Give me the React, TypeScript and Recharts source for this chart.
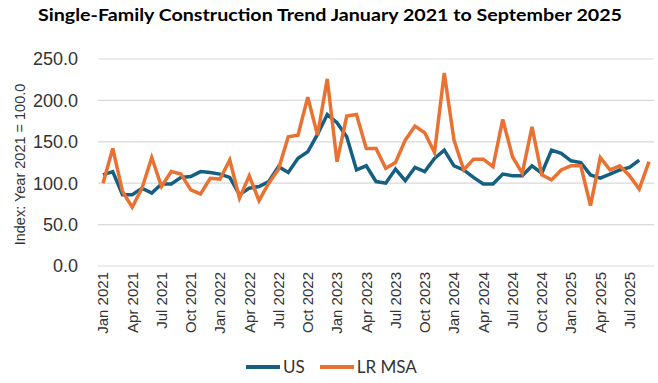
import React from "react";
import { CartesianGrid, Legend, Line, LineChart, XAxis, YAxis } from "recharts";

const months = [
  "Jan 2021", "Feb 2021", "Mar 2021", "Apr 2021", "May 2021", "Jun 2021",
  "Jul 2021", "Aug 2021", "Sep 2021", "Oct 2021", "Nov 2021", "Dec 2021",
  "Jan 2022", "Feb 2022", "Mar 2022", "Apr 2022", "May 2022", "Jun 2022",
  "Jul 2022", "Aug 2022", "Sep 2022", "Oct 2022", "Nov 2022", "Dec 2022",
  "Jan 2023", "Feb 2023", "Mar 2023", "Apr 2023", "May 2023", "Jun 2023",
  "Jul 2023", "Aug 2023", "Sep 2023", "Oct 2023", "Nov 2023", "Dec 2023",
  "Jan 2024", "Feb 2024", "Mar 2024", "Apr 2024", "May 2024", "Jun 2024",
  "Jul 2024", "Aug 2024", "Sep 2024", "Oct 2024", "Nov 2024", "Dec 2024",
  "Jan 2025", "Feb 2025", "Mar 2025", "Apr 2025", "May 2025", "Jun 2025",
  "Jul 2025", "Aug 2025", "Sep 2025",
];

const usIndex = [
  110, 114, 86, 86, 94, 88, 99, 99, 107, 108, 114, 113,
  111, 107, 86, 94, 96, 102, 120, 113, 130, 138, 159, 183,
  173, 156, 116, 121, 102, 100, 117, 103, 119, 114, 130, 140,
  121, 116, 107, 99, 99, 111, 109, 109, 121, 112, 140, 136,
  127, 125, 110, 106, 111, 116, 119, 128, null,
];

const lrIndex = [
  100, 142, 90, 71, 94, 131, 96, 114, 111, 92, 87, 106,
  105, 128, 82, 109, 79, 100, 117, 156, 158, 204, 158, 226,
  126, 181, 183, 142, 142, 118, 125, 152, 169, 161, 137, 233,
  152, 116, 129, 129, 120, 177, 132, 112, 168, 110, 104, 116,
  121, 121, 73, 131, 116, 121, 109, 93, 126,
];

const seriesNames = ["US", "LR MSA"];

const yTicks = [0, 50, 100, 150, 200, 250];

const data = months.map((month, i) => ({ month, us: usIndex[i], lr: lrIndex[i] }));

const BLUE = "#156082";
const ORANGE = "#E97132";

const MonthTick = (props: any) => {
  const { x, y, payload } = props;
  return (
    <text
      x={x}
      y={y}
      dy="0.35em"
      transform={`rotate(-90 ${x} ${y})`}
      textAnchor="end"
      fontFamily="Liberation Sans"
      fontSize={15}
      fill="#333"
    >
      {payload.value}
    </text>
  );
};

const YLabel = (props: any) => {
  const { viewBox } = props;
  const cx = viewBox.x + 20;
  const cy = viewBox.y + viewBox.height / 2 + 2;
  return (
    <text
      x={cx}
      y={cy}
      transform={`rotate(-90 ${cx} ${cy})`}
      textAnchor="middle"
      dy="0.35em"
      fontFamily="Liberation Sans"
      fontSize={14.5}
      fill="#333"
    >
      Index: Year 2021 = 100.0
    </text>
  );
};

const renderLegend = (props: any) => {
  const payload = [...(props.payload || [])].sort(
    (a: any, b: any) => seriesNames.indexOf(a.value) - seriesNames.indexOf(b.value)
  );
  return (
    <div
      style={{
        display: "flex",
        justifyContent: "center",
        alignItems: "center",
        fontFamily: "Lato",
        fontSize: 17,
        color: "#333",
        paddingLeft: 20,
      }}
    >
      {payload.map((entry: any) => (
        <span
          key={entry.value}
          style={{ display: "flex", alignItems: "center", marginRight: 15 }}
        >
          <svg width={34} height={4}>
            <line x1={0} y1={2} x2={34} y2={2} stroke={entry.color} strokeWidth={4} />
          </svg>
          <span style={{ marginLeft: 3 }}>{entry.value}</span>
        </span>
      ))}
    </div>
  );
};

const App = () => {
  return (
    <div style={{ position: "absolute", left: 0, top: 0, width: 658, height: 383, background: "#fff" }}>
      <svg width={658} height={35} style={{ position: "absolute", left: 0, top: 0 }}>
        <text
          x={330}
          y={21}
          textAnchor="middle"
          fontFamily="Lato"
          fontWeight={700}
          fontSize={17}
          textLength={584}
          lengthAdjust="spacingAndGlyphs"
          fill="#000"
        >
          Single-Family Construction Trend January 2021 to September 2025
        </text>
      </svg>
      <LineChart
        width={658}
        height={383}
        data={data}
        margin={{ top: 59, right: 4, bottom: 37, left: 0 }}
      >
        <CartesianGrid horizontal vertical={false} stroke="#d9d9d9" strokeWidth={1.2} />
        <XAxis
          dataKey="month"
          interval={2}
          height={80}
          tickLine={false}
          axisLine={false}
          tickSize={0}
          tickMargin={6}
          padding={{ left: 5, right: 5 }}
          tick={<MonthTick />}
        />
        <YAxis
          width={98}
          domain={[0, 250]}
          ticks={yTicks}
          tickFormatter={(v: number) => v.toFixed(1)}
          tickLine={false}
          axisLine={false}
          tickSize={0}
          tickMargin={20}
          tick={{ fontFamily: "Liberation Sans", fontSize: 18, fill: "#333" }}
          label={<YLabel />}
        />
        <Legend
          verticalAlign="middle"
          align="center"
          layout="horizontal"
          content={renderLegend}
          wrapperStyle={{ top: 356, left: 0, width: 658 }}
        />
        <Line
          type="linear"
          dataKey="us"
          name="US"
          stroke={BLUE}
          strokeWidth={3.5}
          dot={false}
          isAnimationActive={false}
        />
        <Line
          type="linear"
          dataKey="lr"
          name="LR MSA"
          stroke={ORANGE}
          strokeWidth={3.5}
          dot={false}
          isAnimationActive={false}
        />
      </LineChart>
    </div>
  );
};

export default App;
